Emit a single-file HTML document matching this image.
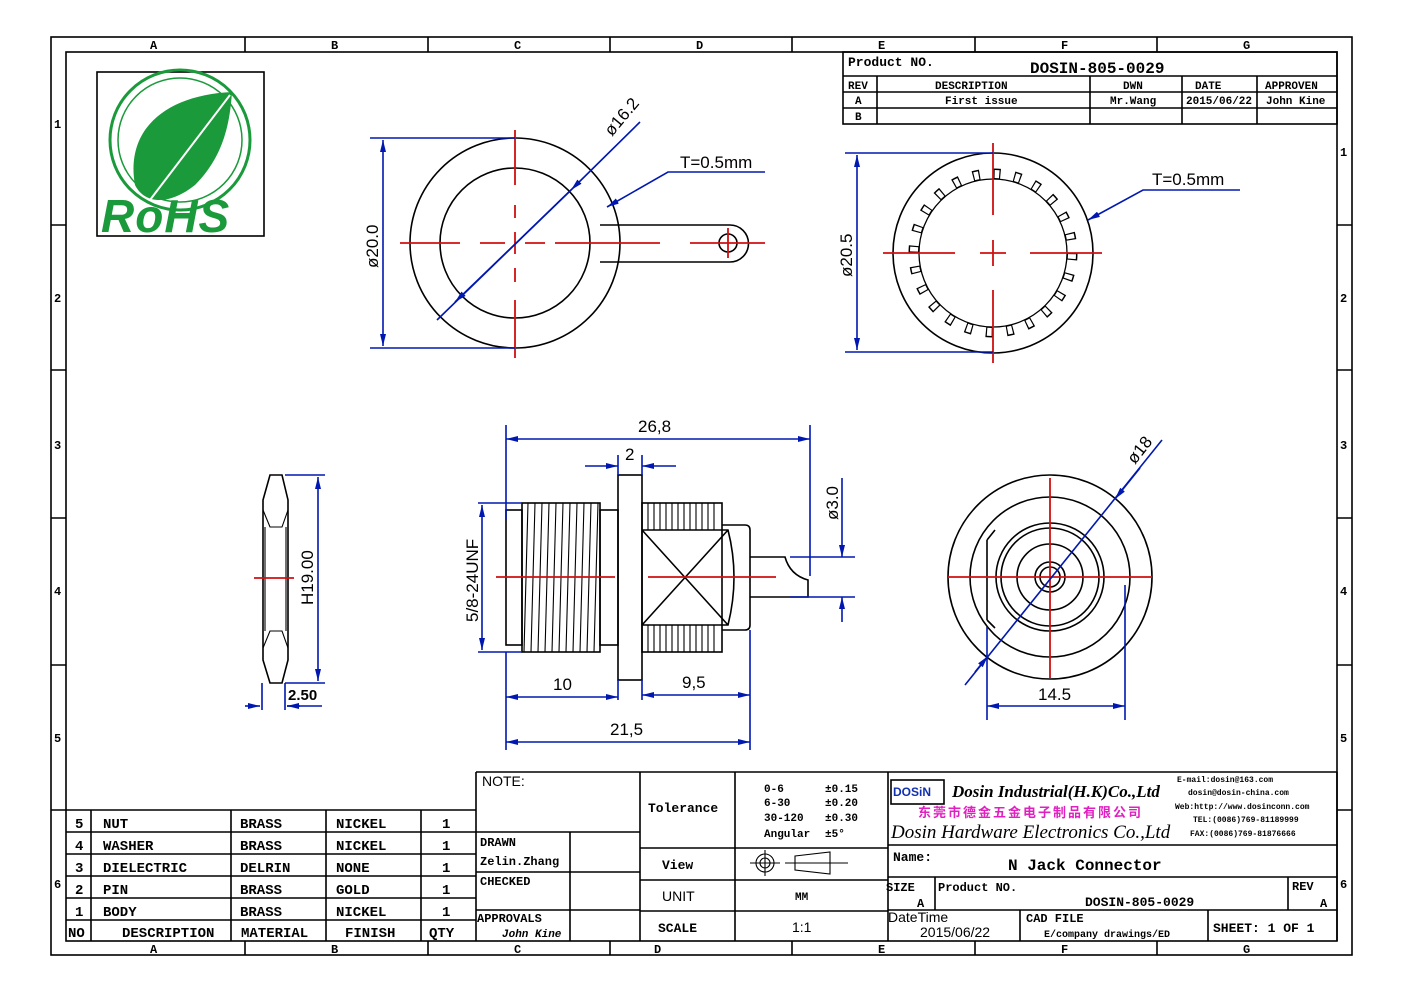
<!DOCTYPE html>
<html><head><meta charset="utf-8"><style>
html,body{margin:0;padding:0;background:#fff}
svg{display:block}
.b{fill:none;stroke:#000;stroke-width:1.6}
.t{fill:none;stroke:#000;stroke-width:1.1}
.d{fill:none;stroke:#0018b0;stroke-width:1.6}
.r{fill:none;stroke:#d01010;stroke-width:1.8}
text{font-family:"Liberation Mono",monospace;font-weight:bold;fill:#000}
text.dt{font-family:"Liberation Sans",sans-serif;font-weight:normal;font-size:17px;fill:#000}
.s{font-size:13px}
text.m{font-family:"Liberation Sans",sans-serif;font-weight:normal;font-size:14px}
text.sans{font-family:"Liberation Sans",sans-serif}
</style></head><body>
<svg width="1403" height="992" viewBox="0 0 1403 992" xmlns="http://www.w3.org/2000/svg">
<defs>
<marker id="a" viewBox="0 0 12 6" refX="12" refY="3" markerWidth="12" markerHeight="6" orient="auto-start-reverse" markerUnits="userSpaceOnUse"><path d="M0,0 L12,3 L0,6z" fill="#0018b0"/></marker>
</defs>
<!-- frame -->
<rect x="51" y="37" width="1301" height="918" class="b" stroke-width="2"/>
<rect x="66" y="52" width="1271" height="889" class="b" stroke-width="2"/>
<g class="b">
<path d="M245 37V52M428 37V52M610 37V52M792 37V52M975 37V52M1157 37V52"/>
<path d="M245 941V955M428 941V955M610 941V955M792 941V955M975 941V955M1157 941V955"/>
<path d="M51 225H66M51 370H66M51 518H66M51 665H66M51 810H66"/>
<path d="M1337 225H1352M1337 370H1352M1337 518H1352M1337 665H1352M1337 810H1352"/>
</g>
<g font-size="12">
<text x="150" y="49">A</text><text x="331" y="49">B</text><text x="514" y="49">C</text><text x="696" y="49">D</text><text x="878" y="49">E</text><text x="1061" y="49">F</text><text x="1243" y="49">G</text>
<text x="150" y="953">A</text><text x="331" y="953">B</text><text x="514" y="953">C</text><text x="654" y="953">D</text><text x="878" y="953">E</text><text x="1061" y="953">F</text><text x="1243" y="953">G</text>
<text x="54" y="128">1</text><text x="54" y="302">2</text><text x="54" y="449">3</text><text x="54" y="595">4</text><text x="54" y="742">5</text><text x="54" y="888">6</text>
<text x="1340" y="156">1</text><text x="1340" y="302">2</text><text x="1340" y="449">3</text><text x="1340" y="595">4</text><text x="1340" y="742">5</text><text x="1340" y="888">6</text>
</g>

<!-- RoHS logo -->
<rect x="97" y="72" width="167" height="164" class="b"/>
<circle cx="180" cy="140" r="70" fill="none" stroke="#1a9a3a" stroke-width="3"/>
<circle cx="180" cy="140" r="62" fill="none" stroke="#1a9a3a" stroke-width="1.5"/>
<path d="M232 92 C165 95 125 130 135 185 C145 205 170 205 195 185 C225 155 230 120 232 92Z" fill="#1a9a3a"/>
<path d="M230 95 L150 200" stroke="#fff" stroke-width="2" fill="none"/>
<text x="101" y="232" style="font-family:'Liberation Sans',sans-serif;font-style:italic;font-size:46px;font-weight:bold;fill:#1a9a3a;letter-spacing:1px">RoHS</text>

<!-- revision table -->
<g class="b">
<rect x="843" y="52" width="494" height="72"/>
<path d="M843 76H1337M843 92H1337M843 108H1337M877 76V124M1090 76V124M1182 76V124M1257 76V124"/>
</g>
<text x="848" y="66" class="s">Product NO.</text>
<text x="1030" y="73" font-size="16">DOSIN-805-0029</text>
<g font-size="11">
<text x="848" y="89">REV</text><text x="935" y="89">DESCRIPTION</text><text x="1123" y="89">DWN</text><text x="1195" y="89">DATE</text><text x="1265" y="89">APPROVEN</text>
<text x="855" y="104">A</text><text x="945" y="104">First issue</text><text x="1110" y="104">Mr.Wang</text><text x="1186" y="104">2015/06/22</text><text x="1266" y="104">John Kine</text>
<text x="855" y="120">B</text>
</g>

<!-- top-left washer -->
<path class="b" d="M600 225H730A18 18 0 0 1 730 262H600" />
<circle cx="515" cy="243" r="105" class="b" fill="#fff"/>
<circle cx="515" cy="243" r="75" class="b"/>
<circle cx="728" cy="243" r="9" class="b"/>
<path class="r" d="M515 130V185M515 205V218M515 232V254M515 268V282M515 300V358M400 243H460M480 243H505M525 243H545M555 243H660M690 243H765M728 228V258"/>
<path class="d" d="M370 138H515M370 348H515"/>
<path class="d" d="M383 140V346" marker-start="url(#a)" marker-end="url(#a)"/>
<text class="dt" transform="translate(378,268) rotate(-90)">ø20.0</text>
<path class="d" d="M437 320L571 190M640 122L571 190" marker-end="url(#a)"/>
<path class="d" d="M571 190L455 302" marker-end="url(#a)"/>
<text class="dt" transform="translate(612,137) rotate(-50)">ø16.2</text>
<path class="d" d="M765 172H668L607 207" marker-end="url(#a)"/>
<text class="dt" x="680" y="168">T=0.5mm</text>

<!-- top-right washer -->
<circle cx="993" cy="253" r="100" class="b"/>
<circle cx="993" cy="253" r="79" fill="none" stroke="#000" stroke-width="11" stroke-dasharray="7 13.7"/>
<circle cx="993" cy="253" r="79" fill="none" stroke="#fff" stroke-width="8" stroke-dasharray="4.6 16.1" stroke-dashoffset="-1.2"/>
<circle cx="993" cy="253" r="74" fill="#fff" stroke="#000" stroke-width="1.3"/>
<path class="r" d="M993 143V215M993 240V266M993 290V363M883 253H955M980 253H1006M1030 253H1102"/>
<path class="d" d="M845 153H993M845 352H993"/>
<path class="d" d="M857 155V350" marker-start="url(#a)" marker-end="url(#a)"/>
<text class="dt" transform="translate(852,277) rotate(-90)">ø20.5</text>
<path class="d" d="M1240 190H1143L1088 220" marker-end="url(#a)"/>
<text class="dt" x="1152" y="185">T=0.5mm</text>

<!-- nut side -->
<path class="b" d="M270 475H282L288 500V660L282 683H270L263 660V500Z"/>
<path class="t" d="M263 510L270 527H282L288 510M263 648L270 631H282L288 648M265 527V631M286 527V631"/>
<path class="r" d="M254 578H294"/>
<path class="d" d="M285 475H325M285 683H325M262 683V710M285 683V710"/>
<path class="d" d="M318 477V681" marker-start="url(#a)" marker-end="url(#a)"/>
<text class="dt" transform="translate(313,605) rotate(-90)">H19.00</text>
<path class="d" d="M245 706H260" marker-end="url(#a)"/>
<path class="d" d="M300 706H287" marker-end="url(#a)"/>
<path class="d" d="M287 706H322"/>
<text x="288" y="700" class="sans" font-size="15">2.50</text>

<!-- main connector -->
<g class="b">
<rect x="506" y="510" width="16" height="135"/>
<rect x="522" y="503" width="78" height="149"/>
<rect x="600" y="510" width="18" height="135"/>
<rect x="618" y="475" width="24" height="205"/>
<rect x="642" y="503" width="80" height="149"/>
<path d="M642 530H728Q740 577 728 625H642M642 530L728 625M728 530L642 625"/>
<path d="M722 525H745Q750 525 750 530V625Q750 630 745 630H722"/>
<path d="M750 557H785Q790 575 808 580V597H750"/>
</g>
<g class="t">
<path d="M528 503L524 652M535 503L531 652M542 503L538 652M549 503L545 652M556 503L552 652M563 503L559 652M570 503L566 652M577 503L573 652M584 503L580 652M591 503L587 652M598 503L594 652"/>
<path d="M648 503V530M654 503V530M660 503V530M666 503V530M672 503V530M678 503V530M684 503V530M690 503V530M696 503V530M702 503V530M708 503V530M714 503V530M648 625V652M654 625V652M660 625V652M666 625V652M672 625V652M678 625V652M684 625V652M690 625V652M696 625V652M702 625V652M708 625V652M714 625V652"/>
</g>
<path class="r" d="M496 577H615M648 577H776"/>
<!-- dims -->
<path class="d" d="M506 425V520M810 425V576M618 455V475M642 455V475M506 652V750M618 680V700M642 680V700M750 630V750M478 503H522M478 652H522M790 557H855M790 597H855"/>
<path class="d" d="M506 439H810" marker-start="url(#a)" marker-end="url(#a)"/>
<text class="dt" x="638" y="432">26,8</text>
<path class="d" d="M585 466H618" marker-end="url(#a)"/>
<path class="d" d="M676 466H642" marker-end="url(#a)"/>
<text class="dt" x="625" y="460">2</text>
<path class="d" d="M506 697H618" marker-start="url(#a)" marker-end="url(#a)"/>
<text class="dt" x="553" y="690">10</text>
<path class="d" d="M642 695H750" marker-start="url(#a)" marker-end="url(#a)"/>
<text class="dt" x="682" y="688">9,5</text>
<path class="d" d="M506 742H750" marker-start="url(#a)" marker-end="url(#a)"/>
<text class="dt" x="610" y="735">21,5</text>
<path class="d" d="M482 505V650" marker-start="url(#a)" marker-end="url(#a)"/>
<text class="dt" transform="translate(478,622) rotate(-90)">5/8-24UNF</text>
<path class="d" d="M842 478V557" marker-end="url(#a)"/>
<path class="d" d="M842 622V597" marker-end="url(#a)"/>
<text class="dt" transform="translate(838,520) rotate(-90)">ø3.0</text>

<!-- bottom-right front view -->
<circle cx="1050" cy="577" r="102" class="b"/>
<circle cx="1050" cy="577" r="80" class="b"/>
<path class="b" d="M987 540L995 530M987 540V620M987 620L995 628"/>
<circle cx="1050" cy="577" r="54" class="b"/>
<circle cx="1050" cy="577" r="49" class="b"/>
<circle cx="1050" cy="577" r="33" class="b"/>
<circle cx="1050" cy="577" r="15" class="b"/>
<circle cx="1050" cy="577" r="10" class="b"/>
<path class="r" d="M1050 478V678M948 577H1152"/>
<path class="d" d="M965 685L1162 440"/>
<path class="d" d="M1140 468L1115 499" marker-end="url(#a)"/>
<path class="d" d="M975 672L988 656" marker-end="url(#a)"/>
<text class="dt" transform="translate(1135,465) rotate(-52)">ø18</text>
<path class="d" d="M987 627V720M1125 585V720"/>
<path class="d" d="M987 706H1125" marker-start="url(#a)" marker-end="url(#a)"/>
<text class="dt" x="1038" y="700">14.5</text>

<!-- parts list -->
<g class="b">
<path d="M66 810H476M66 832H476M66 854H476M66 876H476M66 898H476M66 920H476M91 810V941M231 810V941M326 810V941M421 810V941M476 772V941"/>
</g>
<g font-size="14">
<text x="75" y="828">5</text><text x="103" y="828">NUT</text><text x="240" y="828">BRASS</text><text x="336" y="828">NICKEL</text><text x="442" y="828">1</text>
<text x="75" y="850">4</text><text x="103" y="850">WASHER</text><text x="240" y="850">BRASS</text><text x="336" y="850">NICKEL</text><text x="442" y="850">1</text>
<text x="75" y="872">3</text><text x="103" y="872">DIELECTRIC</text><text x="240" y="872">DELRIN</text><text x="336" y="872">NONE</text><text x="442" y="872">1</text>
<text x="75" y="894">2</text><text x="103" y="894">PIN</text><text x="240" y="894">BRASS</text><text x="336" y="894">GOLD</text><text x="442" y="894">1</text>
<text x="75" y="916">1</text><text x="103" y="916">BODY</text><text x="240" y="916">BRASS</text><text x="336" y="916">NICKEL</text><text x="442" y="916">1</text>
<text x="68" y="937">NO</text><text x="122" y="937">DESCRIPTION</text><text x="241" y="937">MATERIAL</text><text x="345" y="937">FINISH</text><text x="429" y="937">QTY</text>
</g>

<!-- middle block -->
<g class="b">
<path d="M476 772H888M640 772V941M735 772V941M476 832H640M476 872H640M476 910H640M570 832V941M640 848H888M640 880H888M640 911H888M888 772V941"/>
</g>
<text x="482" y="786" class="m">NOTE:</text>
<text x="648" y="812" class="s">Tolerance</text>
<g font-size="11"><text x="764" y="792">0-6</text><text x="825" y="792">±0.15</text><text x="764" y="806">6-30</text><text x="825" y="806">±0.20</text><text x="764" y="821">30-120</text><text x="825" y="821">±0.30</text><text x="764" y="837">Angular</text><text x="825" y="837">±5°</text></g>
<text x="480" y="846" font-size="12">DRAWN</text>
<text x="480" y="865" font-size="12">Zelin.Zhang</text>
<text x="480" y="885" font-size="12">CHECKED</text>
<text x="477" y="922" font-size="12">APPROVALS</text>
<text x="502" y="937" font-size="11" font-style="italic">John Kine</text>
<text x="662" y="869" class="s">View</text>
<circle cx="765" cy="863" r="9" class="t"/><circle cx="765" cy="863" r="5" class="t"/>
<path class="t" d="M750 863H780M765 850V876M785 863H848M795 856L830 852V874L795 870Z"/>
<text x="662" y="901" class="m">UNIT</text>
<text x="795" y="900" font-size="11">MM</text>
<text x="658" y="932" class="s">SCALE</text>
<text x="792" y="932" class="m">1:1</text>

<!-- right title block -->
<g class="b">
<path d="M888 845H1337M888 877H1337M888 910H1337M935 877V910M1288 877V910M1020 910V941M1208 910V941M1337 772V941"/>
<path d="M888 772H1337"/>
</g>
<rect x="891" y="780" width="53" height="24" class="b"/>
<text x="893" y="796" style="font-family:'Liberation Sans',sans-serif;font-size:12px;fill:#1030b0">DOSiN</text>
<text x="952" y="797" style="font-family:'Liberation Serif',serif;font-style:italic;font-size:17px;font-weight:bold">Dosin Industrial(H.K)Co.,Ltd</text>
<text x="918" y="817" style="font-family:'Liberation Sans','Noto Sans CJK SC',sans-serif;font-size:13px;fill:#e020c0;letter-spacing:2px">东莞市德金五金电子制品有限公司</text>
<text x="891" y="838" style="font-family:'Liberation Serif',serif;font-style:italic;font-weight:normal;font-size:19px">Dosin Hardware Electronics Co.,Ltd</text>
<g font-size="8"><text x="1177" y="782">E-mail:dosin@163.com</text><text x="1188" y="795">dosin@dosin-china.com</text><text x="1175" y="809">Web:http://www.dosinconn.com</text><text x="1193" y="822">TEL:(0086)769-81189999</text><text x="1190" y="836">FAX:(0086)769-81876666</text></g>
<text x="893" y="861" class="s">Name:</text>
<text x="1008" y="870" font-size="16">N Jack Connector</text>
<text x="886" y="891" font-size="12">SIZE</text><text x="917" y="907" font-size="12">A</text>
<text x="938" y="891" font-size="12">Product NO.</text>
<text x="1085" y="906" font-size="13">DOSIN-805-0029</text>
<text x="1292" y="890" font-size="12">REV</text><text x="1320" y="907" font-size="12">A</text>
<text x="888" y="922" class="m">DateTime</text>
<text x="920" y="937" class="m">2015/06/22</text>
<text x="1026" y="922" font-size="12">CAD FILE</text>
<text x="1044" y="937" font-size="10">E/company drawings/ED</text>
<text x="1213" y="932" font-size="13">SHEET: 1 OF 1</text>
</svg>
</body></html>
